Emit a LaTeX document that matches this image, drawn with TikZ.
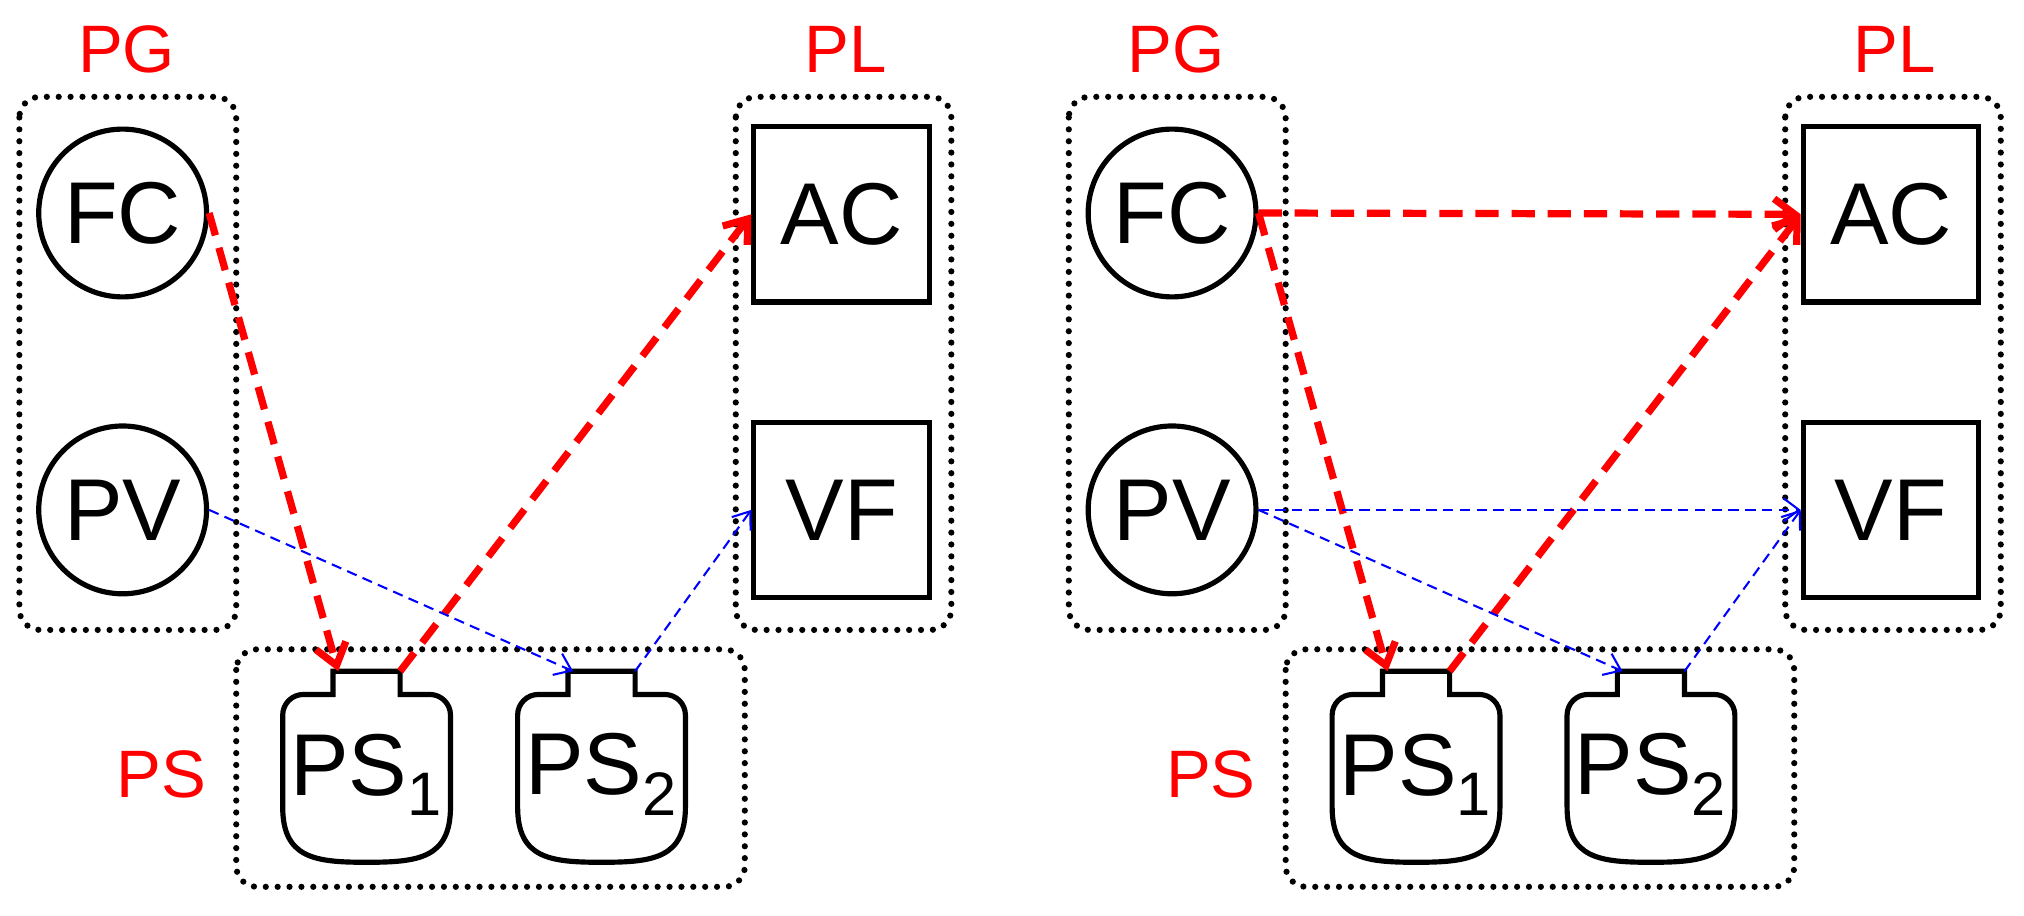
\documentclass[tikz,border=0pt]{standalone}
\usepackage{fontspec}
\setmainfont{Liberation Sans}
\usetikzlibrary{arrows.meta}
\begin{document}
\begin{tikzpicture}[x=0.5pt,y=-0.5pt,
  grp/.style={draw,line width=2.4pt,line cap=round,dash pattern=on 0pt off 4.6pt,rounded corners=8pt},
  circ/.style={draw,circle,line width=2pt,minimum size=65pt,inner sep=0pt,font=\fontsize{34}{34}\selectfont},
  sq/.style={draw,line width=2pt,minimum size=68pt,inner sep=0pt,font=\fontsize{34}{34}\selectfont},
  lab/.style={text=red,font=\fontsize{26}{26}\selectfont},
  red/.style={draw=red,line width=2.8pt,dash pattern=on 9pt off 5pt,-{Straight Barb[length=8pt,width=12pt,line width=2.8pt]}},
  blue/.style={draw=blue,line width=0.8pt,dash pattern=on 4pt off 2.5pt,-{Straight Barb[length=6pt,width=9pt,line width=0.8pt]}},
  bat/.style={line width=2pt}]
\useasboundingbox (0,0) rectangle (1568,709);
\newcommand{\battery}[3]{% center x, name, label
  \draw[bat] (#1-26,538) -- (#1-26,520) -- (#1+26,520) -- (#1+26,538)
    [rounded corners=8pt] -- (#1+65,538) [rounded corners=0pt] -- (#1+65,625)
    .. controls (#1+65,665) and (#1+40,668) .. (#1,668)
    .. controls (#1-40,668) and (#1-65,665) .. (#1-65,625)
    [rounded corners=8pt] -- (#1-65,538) [rounded corners=0pt] -- cycle;
  \node[font=\fontsize{34}{34}\selectfont] (#2) at (#1,600) {#3};
  \coordinate (#2l) at (#1-22,520);
  \coordinate (#2r) at (#1+26,520);}
\foreach \o/\p in {0/a,813/b}{
  \begin{scope}[xshift=\o*0.5pt]
  \node[lab] (pg\p) at (98,38) {PG};
  \node[lab] (pl\p) at (655,38) {PL};
  \node[lab] (ps\p) at (125,600) {PS};
  \draw[grp] (15,75) rectangle (183,488);
  \draw[grp] (570,75) rectangle (737,488);
  \draw[grp] (183,503) rectangle (577,687);
  \node[circ] (fc\p) at (95,165) {FC};
  \node[circ] (pv\p) at (95,395) {PV};
  \node[sq] (ac\p) at (652,166) {AC};
  \node[sq] (vf\p) at (652,395) {VF};
  \battery{284}{s1\p}{PS$_{\mathrm 1}$}
  \battery{466}{s2\p}{PS$_{\mathrm 2}$}
  \end{scope}}
\foreach \p in {a,b}{
  \draw[red] (fc\p.east) -- (s1\p l);
  \draw[red] (s1\p r) -- (ac\p.west);
  \draw[blue] (pv\p.east) -- (s2\p l);
  \draw[blue] (s2\p r) -- (vf\p.west);}
\draw[red] (fcb.east) -- (acb.west);
\draw[blue] (pvb.east) -- (vfb.west);
\end{tikzpicture}
\end{document}
